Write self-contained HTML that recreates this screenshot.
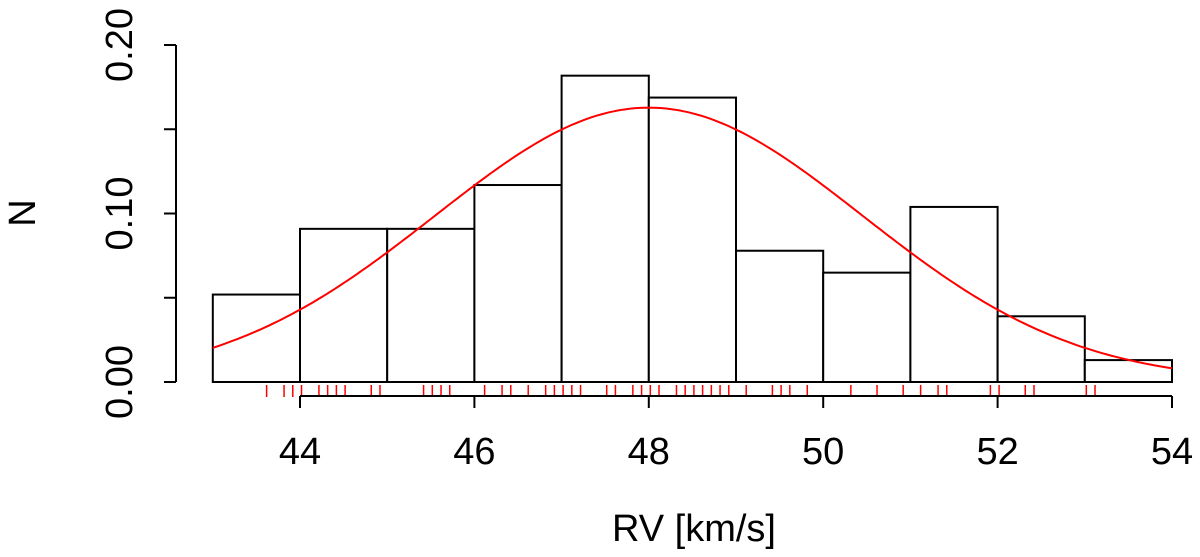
<!DOCTYPE html>
<html><head><meta charset="utf-8"><style>
html,body{margin:0;padding:0;background:#fff;}
svg{display:block;font-family:"Liberation Sans",Arial,sans-serif;}
</style></head><body>
<svg id="chart" width="1200" height="557" viewBox="0 0 1200 557"></svg>
<script>
const binEdges = [43,44,45,46,47,48,49,50,51,52,53,54];
const binDensity = [0.0519,0.0909,0.0909,0.1169,0.1818,0.1688,0.0779,0.0649,0.1039,0.0390,0.0130];
const rugValues = [43.6,43.8,43.9,44.0,44.2,44.3,44.4,44.5,44.8,44.9,45.4,45.5,45.6,45.7,46.1,46.3,46.4,46.6,46.8,46.9,47.0,47.1,47.2,47.5,47.6,47.8,47.9,48.0,48.1,48.3,48.4,48.5,48.6,48.7,48.8,48.9,49.1,49.4,49.5,49.6,49.8,50.3,50.6,50.9,51.1,51.3,51.4,51.9,52.0,52.3,52.4,53.0,53.1];
const xTicks = [44,46,48,50,52,54];
const yTicks = [0,0.05,0.10,0.15,0.20];
const yTickLabels = ["0.00","","0.10","","0.20"];
const fitMean = 48.0;
const fitSd = 2.45;

const NS="http://www.w3.org/2000/svg";
const svg=document.getElementById('chart');
const X=v=>300+(v-44)*87.2;
const Y=v=>382-v*1685;
function mk(tag,attrs,parent){const e=document.createElementNS(NS,tag);for(const k in attrs)e.setAttribute(k,attrs[k]);(parent||svg).appendChild(e);return e;}

const bars=mk('g',{});


binDensity.forEach((d,i)=>{
  const r=mk('rect',{x:X(binEdges[i]),y:Y(d),width:X(binEdges[i+1])-X(binEdges[i]),height:Y(0)-Y(d),fill:'#fff',stroke:'#000','stroke-width':2},bars);
  
  
});

let pts=[];
for(let v=43;v<=54.0001;v+=0.05){
  const d=Math.exp(-0.5*((v-fitMean)/fitSd)**2)/(fitSd*Math.sqrt(2*Math.PI));
  pts.push(X(v).toFixed(1)+','+Y(d).toFixed(1));
}
const curve=mk('polyline',{points:pts.join(' '),fill:'none',stroke:'#ff0000','stroke-width':2});



const rug=mk('g',{});


rugValues.forEach(v=>{
  const l=mk('line',{x1:X(v)+1.5,x2:X(v)+1.5,y1:385,y2:397,stroke:'#ff0000','stroke-width':1.5},rug);
  
  
});

const xa=mk('g',{});


mk('line',{x1:X(44),x2:X(54),y1:396,y2:396,stroke:'#000','stroke-width':2},xa);
xTicks.forEach(v=>{
  mk('line',{x1:X(v),x2:X(v),y1:396,y2:408,stroke:'#000','stroke-width':2},xa);
  const t=mk('text',{x:X(v),y:464,'font-size':38,'text-anchor':'middle'},xa);
  t.textContent=v;
  
  
});
const xt=mk('text',{x:694,y:541,'font-size':38,'text-anchor':'middle'});
xt.textContent='RV [km/s]';



const ya=mk('g',{});


mk('line',{x1:176,x2:176,y1:Y(0),y2:Y(0.2),stroke:'#000','stroke-width':2},ya);
yTicks.forEach((v,i)=>{
  mk('line',{x1:164,x2:176,y1:Y(v),y2:Y(v),stroke:'#000','stroke-width':2},ya);
  if(yTickLabels[i]){
    const t=mk('text',{x:0,y:0,'font-size':38,'text-anchor':'middle',transform:`translate(132,${Y(v)}) rotate(-90)`},ya);
    t.textContent=yTickLabels[i];
    
    
  }
});
const yt=mk('text',{x:0,y:0,'font-size':38,'text-anchor':'middle',transform:'translate(35,213) rotate(-90)'});
yt.textContent='N';


</script>
</body></html>
